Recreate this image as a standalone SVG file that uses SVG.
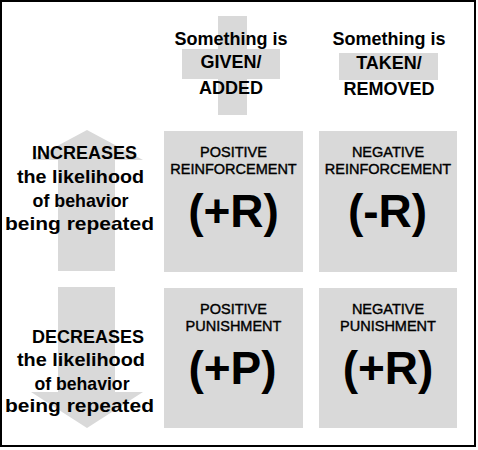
<svg xmlns="http://www.w3.org/2000/svg" width="478" height="450" viewBox="0 0 478 450">
<style>
.bg{fill:#d9d9d9}
.hd{font-family:"Liberation Sans",Arial,sans-serif;font-weight:bold;font-size:18px;fill:#000;text-anchor:middle}
.lb{font-family:"Liberation Sans",Arial,sans-serif;font-weight:bold;font-size:19px;fill:#000;text-anchor:middle}
.bx{font-family:"Liberation Sans",Arial,sans-serif;font-size:14.5px;fill:#000;text-anchor:middle;stroke:#000;stroke-width:0.4}
.big{font-family:"Liberation Sans",Arial,sans-serif;font-weight:bold;font-size:46px;fill:#000;text-anchor:middle}
</style>
<rect x="0" y="0" width="478" height="450" fill="#fff"/>
<rect x="1" y="1" width="474" height="445" fill="#fff" stroke="#000" stroke-width="2"/>
<g id="connectors">
<polygon class="bg" points="87,130 143,160 115,160 115,271 58,271 58,160 31,160"/>
<polygon class="bg" points="58,287 115,287 115,392 143,392 87,428 31,392 58,392"/>
</g>
<g id="header-given">
<rect class="bg" x="218" y="16" width="29" height="99"/>
<rect class="bg" x="182" y="49" width="98" height="30"/>
<text class="hd" x="231" y="45">Something is</text>
<text class="hd" x="231" y="68">GIVEN/</text>
<text class="hd" x="231" y="94">ADDED</text>
</g>
<g id="header-taken">
<rect class="bg" x="339" y="53" width="99" height="27"/>
<text class="hd" x="389" y="45">Something is</text>
<text class="hd" x="389" y="69">TAKEN/</text>
<text class="hd" x="389" y="95">REMOVED</text>
</g>
<g id="label-increases">
<text class="lb" x="84.5" y="159" textLength="105" lengthAdjust="spacingAndGlyphs">INCREASES</text>
<text class="lb" x="80.5" y="183" textLength="127" lengthAdjust="spacingAndGlyphs">the likelihood</text>
<text class="lb" x="80.5" y="207" textLength="96" lengthAdjust="spacingAndGlyphs">of behavior</text>
<text class="lb" x="79.5" y="230" textLength="149" lengthAdjust="spacingAndGlyphs">being repeated</text>
</g>
<g id="label-decreases">
<text class="lb" x="88" y="343" textLength="112" lengthAdjust="spacingAndGlyphs">DECREASES</text>
<text class="lb" x="81" y="366" textLength="128" lengthAdjust="spacingAndGlyphs">the likelihood</text>
<text class="lb" x="82" y="390" textLength="95" lengthAdjust="spacingAndGlyphs">of behavior</text>
<text class="lb" x="79.5" y="412" textLength="149" lengthAdjust="spacingAndGlyphs">being repeated</text>
</g>
<g id="positive-reinforcement">
<rect class="bg" x="164" y="131" width="139" height="141"/>
<text class="bx" x="233.5" y="157">POSITIVE</text>
<text class="bx" x="233.5" y="174">REINFORCEMENT</text>
<text class="big" x="233.5" y="227">(+R)</text>
</g>
<g id="negative-reinforcement">
<rect class="bg" x="319" y="131" width="138" height="141"/>
<text class="bx" x="388" y="157">NEGATIVE</text>
<text class="bx" x="388" y="174">REINFORCEMENT</text>
<text class="big" x="387.5" y="227">(-R)</text>
</g>
<g id="positive-punishment">
<rect class="bg" x="164" y="288" width="139" height="140"/>
<text class="bx" x="233.5" y="314">POSITIVE</text>
<text class="bx" x="233.5" y="331">PUNISHMENT</text>
<text class="big" x="232.5" y="384">(+P)</text>
</g>
<g id="negative-punishment">
<rect class="bg" x="319" y="288" width="138" height="140"/>
<text class="bx" x="388" y="314">NEGATIVE</text>
<text class="bx" x="388" y="331">PUNISHMENT</text>
<text class="big" x="388" y="384">(+R)</text>
</g>
</svg>
